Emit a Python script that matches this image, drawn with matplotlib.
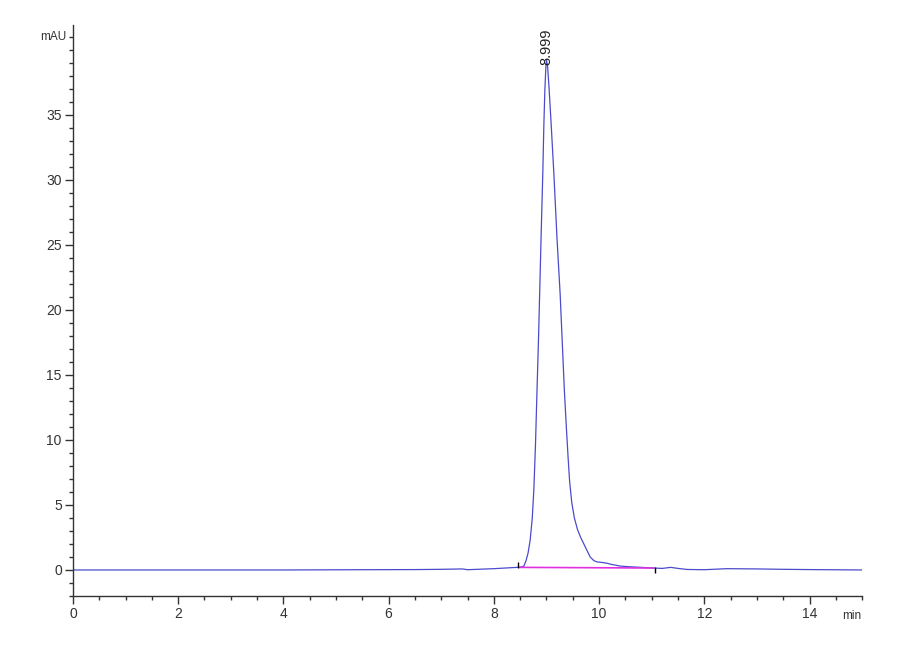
import matplotlib
matplotlib.use("Agg")
import matplotlib.pyplot as plt
from matplotlib.ticker import FixedLocator, MultipleLocator
from matplotlib.transforms import blended_transform_factory

# chromatogram trace (time in min, signal in mAU)
time_min = [0.0, 2.0, 4.0, 5.5, 6.5, 7.0, 7.4, 7.5, 8.0, 8.44, 8.52, 8.57,
            8.61, 8.65, 8.69, 8.73, 8.76, 8.79, 8.82, 8.85, 8.87, 8.90, 8.93,
            8.95, 8.97, 8.99, 9.00, 9.02, 9.05, 9.09, 9.14, 9.20, 9.26, 9.30,
            9.34, 9.38, 9.41, 9.44, 9.48, 9.53, 9.59, 9.65, 9.71, 9.77, 9.83,
            9.90, 9.96, 10.05, 10.15, 10.21, 10.40, 10.53, 10.80, 11.03,
            11.20, 11.36, 11.50, 11.67, 12.0, 12.43, 13.0, 13.5, 14.0, 15.0]
signal_mau = [0.0, 0.0, 0.0, 0.02, 0.03, 0.05, 0.08, 0.02, 0.1, 0.2, 0.22,
              0.3, 0.7, 1.3, 2.3, 4.0, 6.2, 9.5, 13.8, 18.0, 21.2, 26.0, 30.5,
              34.2, 37.0, 38.8, 39.2, 38.8, 37.0, 34.2, 30.5, 25.5, 21.2, 17.5,
              13.8, 10.8, 8.7, 6.8, 5.2, 4.0, 3.1, 2.5, 2.0, 1.5, 1.0,
              0.72, 0.62, 0.58, 0.52, 0.45, 0.3, 0.26, 0.2, 0.15,
              0.12, 0.2, 0.12, 0.04, 0.02, 0.1, 0.08, 0.05, 0.03, 0.0]

# integration baseline and peak marks
base_t = [8.50, 11.03]
base_v = [0.20, 0.15]
peak_rt = 8.999
peak_height = 39.2
mark_t = [8.46, 11.06]
mark_lo = [0.15, -0.25]
mark_hi = [0.65, 0.20]

x_major = [0, 2, 4, 6, 8, 10, 12, 14]
y_major = [0, 5, 10, 15, 20, 25, 30, 35]

plt.rcParams["font.family"] = ["Liberation Sans", "DejaVu Sans"]

fig = plt.figure(figsize=(9, 6.6), dpi=100)
ax = fig.add_axes([0.081, 0.097, 0.877, 0.865])

ax.plot(time_min, signal_mau, color="#4b4bcc", lw=0.9)
ax.plot(base_t, base_v, color="#e030e0", lw=1.2)
ax.vlines(mark_t, mark_lo, mark_hi, color="black", lw=1.0)

ax.text(peak_rt, peak_height - 0.4, f"{peak_rt:.3f}", rotation=90,
        ha="center", va="bottom", fontsize=10.5, color="#222222")

ax.set_xlim(0, 15)
ax.set_ylim(-2, 41.9)
ax.xaxis.set_major_locator(FixedLocator(x_major))
ax.xaxis.set_minor_locator(MultipleLocator(0.5))
ax.yaxis.set_major_locator(FixedLocator(y_major))
ax.yaxis.set_minor_locator(MultipleLocator(1))

for side in ("top", "right"):
    ax.spines[side].set_visible(False)
for side in ("left", "bottom"):
    ax.spines[side].set_color("#333333")
    ax.spines[side].set_linewidth(1.0)

ax.tick_params(which="major", length=6, width=1.0, color="#333333",
               labelsize=10, labelcolor="#333333", pad=2)
ax.tick_params(which="minor", length=3, width=1.0, color="#333333")

ax.text(-0.12, 41, "mAU", ha="right", va="center", fontsize=8.5,
        color="#333333")
trans = blended_transform_factory(ax.transData, ax.transAxes)
ax.annotate("min", xy=(14.8, 0), xycoords=trans, xytext=(0, -10),
            textcoords="offset points", ha="center", va="top",
            fontsize=8.5, color="#333333")

fig.savefig("out.png", dpi=100, facecolor="white")
